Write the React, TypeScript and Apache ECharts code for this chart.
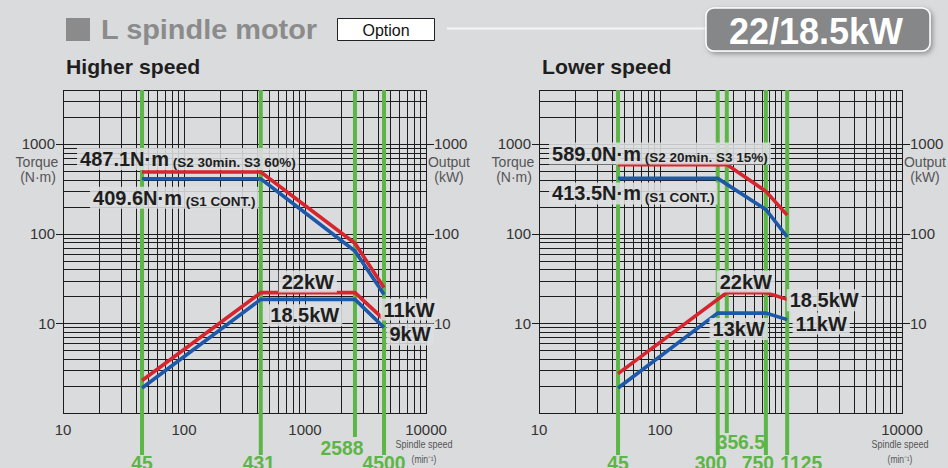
import React, { useEffect, useRef } from 'react';
import * as echarts from 'echarts';

// ---- Higher speed winding ----
const hsSpeeds = [45, 431, 2588, 4500];
const hsTorqueS2 = [487.1, 487.1, 78, 25];
const hsTorqueS1 = [409.6, 409.6, 64, 21];
const hsPowerS2 = [2.3, 22, 22, 11];
const hsPowerS1 = [1.9, 18.5, 18.5, 9];
const hsMarkers = [45, 431, 2588, 4500];

// ---- Lower speed winding ----
const lsSpeedsS2 = [45, 356.5, 750, 1125];
const lsTorqueS2 = [589.0, 589.0, 297, 161];
const lsPowerS2 = [2.75, 22, 22, 18.5];
const lsSpeedsS1 = [45, 300, 750, 1125];
const lsTorqueS1 = [413.5, 413.5, 186, 92];
const lsPowerS1 = [1.9, 13, 13, 11];
const lsMarkers = [45, 300, 356.5, 750, 1125];

// ---- Axis ticks ----
const hsXTickLabels = [10, 100, 1000, 10000];
const lsXTickLabels = [10, 100, 10000];
const yTickLabels = [10, 100, 1000];
const X_MIN = 10;
const X_MAX = 10000;
const Y_MIN = 1;
const Y_MAX = 4000;

const FONT = "'Liberation Sans', Arial, Helvetica, sans-serif";
const RED = '#d6252e';
const BLUE = '#1d58a9';
const GREEN = '#5cb646';
const GRID_INK = '#1c1c1c';
const BG = '#dadbdd';

const zip = (xs: number[], ys: number[]) => xs.map((x, i) => [x, ys[i]]);

// Log grid: every 1..9 step per decade, vertical and horizontal
function gridLineData() {
  const steps = [1, 2, 3, 4, 5, 6, 7, 8, 9];
  const items: number[][] = [];
  for (let e = 1; e <= 3; e++) for (const s of steps) items.push([s * 10 ** e, Y_MIN, 0, 0]);
  items.push([X_MAX, Y_MIN, 0, 0]);
  for (let e = 0; e <= 3; e++)
    for (const s of steps) {
      const v = s * 10 ** e;
      if (v <= Y_MAX) items.push([X_MIN, v, 1, s === 1 && e >= 1 ? 1 : 0]);
    }
  return items;
}

const gridSeries = (xi: number, yi: number) => ({
  type: 'custom',
  xAxisIndex: xi,
  yAxisIndex: yi,
  z: 1,
  silent: true,
  clip: false,
  data: gridLineData(),
  renderItem: (_p: any, api: any) => {
    const vx = api.value(0);
    const vy = api.value(1);
    const horiz = api.value(2);
    const major = api.value(3);
    if (horiz) {
      const a = api.coord([X_MIN, vy]);
      const b = api.coord([X_MAX, vy]);
      const y = Math.round(a[1]) + 0.5;
      const ext = major ? 7 : 0;
      return {
        type: 'line',
        shape: { x1: Math.round(a[0]) - ext, y1: y, x2: Math.round(b[0]) + 1 + ext, y2: y },
        style: { stroke: GRID_INK, lineWidth: 1 },
      };
    }
    const a = api.coord([vx, Y_MIN]);
    const b = api.coord([vx, Y_MAX]);
    const x = Math.round(a[0]) + 0.5;
    return {
      type: 'line',
      shape: { x1: x, y1: Math.round(b[1]), x2: x, y2: Math.round(a[1]) + 1 },
      style: { stroke: GRID_INK, lineWidth: 1 },
    };
  },
});

type MarkerLayout = { ext: number; labelDy: number; dx: number };
const hsMarkerLayout: MarkerLayout[] = [
  { ext: 42, labelDy: 50, dx: 0 },
  { ext: 42, labelDy: 50, dx: -2 },
  { ext: 24, labelDy: 35, dx: -13 },
  { ext: 42, labelDy: 50, dx: 0 },
];
const lsMarkerLayout: MarkerLayout[] = [
  { ext: 42, labelDy: 50, dx: 0 },
  { ext: 42, labelDy: 50, dx: -7 },
  { ext: 20, labelDy: 29, dx: 14 },
  { ext: 42, labelDy: 50, dx: -8 },
  { ext: 42, labelDy: 50, dx: 14 },
];

const markerSeries = (xi: number, yi: number, speeds: number[], layout: MarkerLayout[]) => ({
  type: 'custom',
  xAxisIndex: xi,
  yAxisIndex: yi,
  z: 2,
  silent: true,
  clip: false,
  data: speeds.map((s) => [s, Y_MIN]),
  renderItem: (p: any, api: any) => {
    const v = api.value(0);
    const lay = layout[p.dataIndex];
    const top = api.coord([v, Y_MAX]);
    const bottom = api.coord([v, Y_MIN]);
    return {
      type: 'group',
      children: [
        {
          type: 'line',
          shape: { x1: top[0], y1: top[1], x2: top[0], y2: bottom[1] + lay.ext },
          style: { stroke: GREEN, lineWidth: 4 },
        },
        {
          type: 'text',
          x: top[0] + lay.dx,
          y: bottom[1] + lay.labelDy,
          scaleX: 0.92,
          style: {
            text: String(v),
            fill: GREEN,
            fontSize: 21,
            fontWeight: 'bold',
            fontFamily: FONT,
            align: 'center',
            verticalAlign: 'middle',
            textAlign: 'center',
            textVerticalAlign: 'middle',
          },
        },
      ],
    };
  },
});

const curve = (xi: number, yi: number, data: number[][], color: string) => ({
  type: 'line',
  xAxisIndex: xi,
  yAxisIndex: yi,
  z: 3,
  silent: true,
  symbol: 'none',
  data,
  lineStyle: { color, width: 3.6, join: 'miter' },
});

type Note = { at: number[]; main: string; note?: string; dx: number; dy: number; align: string };

const hsNotes: Note[] = [
  { at: [hsSpeeds[0], hsTorqueS2[0]], main: `${hsTorqueS2[0].toFixed(1)}N·m`, note: '(S2 30min. S3 60%)', dx: -65, dy: -13, align: 'left' },
  { at: [hsSpeeds[0], hsTorqueS1[0]], main: `${hsTorqueS1[0].toFixed(1)}N·m`, note: '(S1 CONT.)', dx: -52, dy: 19, align: 'left' },
  { at: [hsSpeeds[1], hsPowerS2[1]], main: `${hsPowerS2[1]}kW`, dx: 47, dy: -11, align: 'center' },
  { at: [hsSpeeds[1], hsPowerS1[1]], main: `${hsPowerS1[1]}kW`, dx: 44, dy: 16, align: 'center' },
  { at: [hsSpeeds[3], hsPowerS2[3]], main: `${hsPowerS2[3]}kW`, dx: 25, dy: -10, align: 'center' },
  { at: [hsSpeeds[3], hsPowerS1[3]], main: `${hsPowerS1[3]}kW`, dx: 26, dy: 7, align: 'center' },
];

const lsNotes: Note[] = [
  { at: [lsSpeedsS2[0], lsTorqueS2[0]], main: `${lsTorqueS2[0].toFixed(1)}N·m`, note: '(S2 20min. S3 15%)', dx: -69, dy: -11, align: 'left' },
  { at: [lsSpeedsS1[0], lsTorqueS1[0]], main: `${lsTorqueS1[0].toFixed(1)}N·m`, note: '(S1 CONT.)', dx: -69, dy: 15, align: 'left' },
  { at: [lsSpeedsS2[1], lsPowerS2[1]], main: `${lsPowerS2[1]}kW`, dx: 19, dy: -11, align: 'center' },
  { at: [lsSpeedsS2[3], lsPowerS2[3]], main: `${lsPowerS2[3]}kW`, dx: 37, dy: 1, align: 'center' },
  { at: [lsSpeedsS1[1], lsPowerS1[1]], main: `${lsPowerS1[1]}kW`, dx: 21, dy: 16, align: 'center' },
  { at: [lsSpeedsS1[3], lsPowerS1[3]], main: `${lsPowerS1[3]}kW`, dx: 34, dy: 4, align: 'center' },
];

const noteSeries = (xi: number, yi: number, notes: Note[]) => ({
  type: 'custom',
  xAxisIndex: xi,
  yAxisIndex: yi,
  z: 4,
  silent: true,
  clip: false,
  data: notes.map((n) => n.at),
  renderItem: (p: any, api: any) => {
    const n = notes[p.dataIndex];
    const pt = api.coord([api.value(0), api.value(1)]);
    const text = n.note ? `{m|${n.main}}{n| ${n.note}}` : `{m|${n.main}}`;
    return {
      type: 'text',
      x: pt[0] + n.dx,
      y: pt[1] + n.dy,
      style: {
        text,
        align: n.align,
        verticalAlign: 'middle',
        textAlign: n.align,
        textVerticalAlign: 'middle',
        backgroundColor: 'rgba(221,222,224,0.88)',
        padding: [0, 3],
        rich: {
          m: { fontSize: 20, fontWeight: 'bold', fontFamily: FONT, fill: '#1e1e1e', lineHeight: 22 },
          n: { fontSize: 13.5, fontWeight: 'bold', fontFamily: FONT, fill: '#1e1e1e', lineHeight: 16, verticalAlign: 'bottom' },
        },
      },
    };
  },
});

const xAxis = (gridIndex: number, shown: number[]) => ({
  type: 'log',
  logBase: 10,
  gridIndex,
  min: X_MIN,
  max: X_MAX,
  axisLine: { show: false },
  axisTick: { show: false },
  splitLine: { show: false },
  axisLabel: {
    margin: 9,
    fontSize: 15,
    color: '#333',
    fontFamily: FONT,
    formatter: (v: number) => (shown.includes(Math.round(v)) ? String(Math.round(v)) : ''),
  },
});

const yAxis = (gridIndex: number, position: string) => ({
  type: 'log',
  logBase: 10,
  gridIndex,
  position,
  min: Y_MIN,
  max: Y_MAX,
  axisLine: { show: false },
  axisTick: { show: false },
  splitLine: { show: false },
  axisLabel: {
    margin: 8,
    fontSize: 15,
    color: '#333',
    fontFamily: FONT,
    formatter: (v: number) => (yTickLabels.includes(Math.round(v)) ? String(Math.round(v)) : ''),
  },
});

const txt = (x: number, y: number, text: string, o: any = {}) => ({
  type: 'text',
  x,
  y,
  scaleX: o.scaleX ?? 1,
  silent: true,
  style: {
    text,
    fill: o.fill ?? '#1e1e1e',
    fontSize: o.fontSize ?? 14,
    fontWeight: o.fontWeight ?? 'normal',
    fontFamily: FONT,
    align: o.align ?? 'left',
    textAlign: o.align ?? 'left',
    verticalAlign: 'middle',
    textVerticalAlign: 'middle',
  },
});

const axisNames = (plotLeft: number, plotRight: number) => [
  txt(plotLeft - 26, 162, 'Torque', { fill: '#555', fontSize: 14, align: 'center' }),
  txt(plotLeft - 25, 177, '(N·m)', { fill: '#555', fontSize: 14, align: 'center' }),
  txt(plotRight + 23, 162, 'Output', { fill: '#555', fontSize: 14, align: 'center' }),
  txt(plotRight + 23, 177, '(kW)', { fill: '#555', fontSize: 14, align: 'center' }),
  txt(plotRight - 2, 444, 'Spindle speed', { fill: '#555', fontSize: 11, align: 'center', scaleX: 0.82 }),
  txt(plotRight - 2, 460, '(min⁻¹)', { fill: '#555', fontSize: 10, align: 'center', scaleX: 0.85 }),
];

export default function App() {
  const ref = useRef<HTMLDivElement>(null);

  useEffect(() => {
    if (!ref.current) return;
    const chart = echarts.init(ref.current, undefined, { renderer: 'svg' });
    const GRID_TOP = 90;
    const GRID_H = 323;
    const GRID_W = 363;
    const LEFT_A = 63;
    const LEFT_B = 539;

    chart.setOption({
      animation: false,
      backgroundColor: BG,
      textStyle: { fontFamily: FONT },
      grid: [
        { left: LEFT_A, top: GRID_TOP, width: GRID_W, height: GRID_H, containLabel: false, outerBoundsMode: 'none' },
        { left: LEFT_B, top: GRID_TOP, width: GRID_W, height: GRID_H, containLabel: false, outerBoundsMode: 'none' },
      ],
      xAxis: [xAxis(0, hsXTickLabels), xAxis(1, lsXTickLabels)],
      yAxis: [yAxis(0, 'left'), yAxis(0, 'right'), yAxis(1, 'left'), yAxis(1, 'right')],
      graphic: [
        { type: 'rect', silent: true, shape: { x: 66, y: 18, width: 24, height: 23 }, style: { fill: '#8b8b8b' } },
        txt(101, 30, 'L spindle motor', { fill: '#8b8b8b', fontSize: 27, fontWeight: 'bold', scaleX: 1.07 }),
        {
          type: 'rect',
          silent: true,
          shape: { x: 337.5, y: 18.5, width: 97, height: 22 },
          style: { fill: '#ffffff', stroke: '#222', lineWidth: 1 },
        },
        txt(386, 30, 'Option', { fill: '#111', fontSize: 16, align: 'center' }),
        { type: 'line', silent: true, shape: { x1: 447, y1: 28.5, x2: 707, y2: 28.5 }, style: { stroke: '#f6f6f6', lineWidth: 2 } },
        {
          type: 'rect',
          silent: true,
          shape: { x: 706, y: 8, width: 224, height: 43, r: 8 },
          style: {
            fill: '#868789',
            stroke: '#ffffff',
            lineWidth: 1.5,
            shadowBlur: 5,
            shadowOffsetX: 2,
            shadowOffsetY: 2,
            shadowColor: 'rgba(0,0,0,0.35)',
          },
        },
        txt(816, 31, `${hsPowerS2[1]}/${hsPowerS1[1]}kW`, { fill: '#ffffff', fontSize: 36, fontWeight: 'bold', align: 'center' }),
        txt(66, 67, 'Higher speed', { fontSize: 20, fontWeight: 'bold', scaleX: 1.06 }),
        txt(542, 67, 'Lower speed', { fontSize: 20, fontWeight: 'bold', scaleX: 1.06 }),
        ...axisNames(LEFT_A, LEFT_A + GRID_W),
        ...axisNames(LEFT_B, LEFT_B + GRID_W),
      ],
      series: [
        gridSeries(0, 0),
        markerSeries(0, 0, hsMarkers, hsMarkerLayout),
        curve(0, 0, zip(hsSpeeds, hsTorqueS2), RED),
        curve(0, 0, zip(hsSpeeds, hsTorqueS1), BLUE),
        curve(0, 0, zip(hsSpeeds, hsPowerS2), RED),
        curve(0, 0, zip(hsSpeeds, hsPowerS1), BLUE),
        noteSeries(0, 0, hsNotes),

        gridSeries(1, 2),
        markerSeries(1, 2, lsMarkers, lsMarkerLayout),
        curve(1, 2, zip(lsSpeedsS2, lsTorqueS2), RED),
        curve(1, 2, zip(lsSpeedsS1, lsTorqueS1), BLUE),
        curve(1, 2, zip(lsSpeedsS2, lsPowerS2), RED),
        curve(1, 2, zip(lsSpeedsS1, lsPowerS1), BLUE),
        noteSeries(1, 2, lsNotes),
      ],
    });

    return () => chart.dispose();
  }, []);

  return (
    <div
      ref={ref}
      style={{ position: 'fixed', left: 0, top: 0, width: 948, height: 468 }}
    />
  );
}
